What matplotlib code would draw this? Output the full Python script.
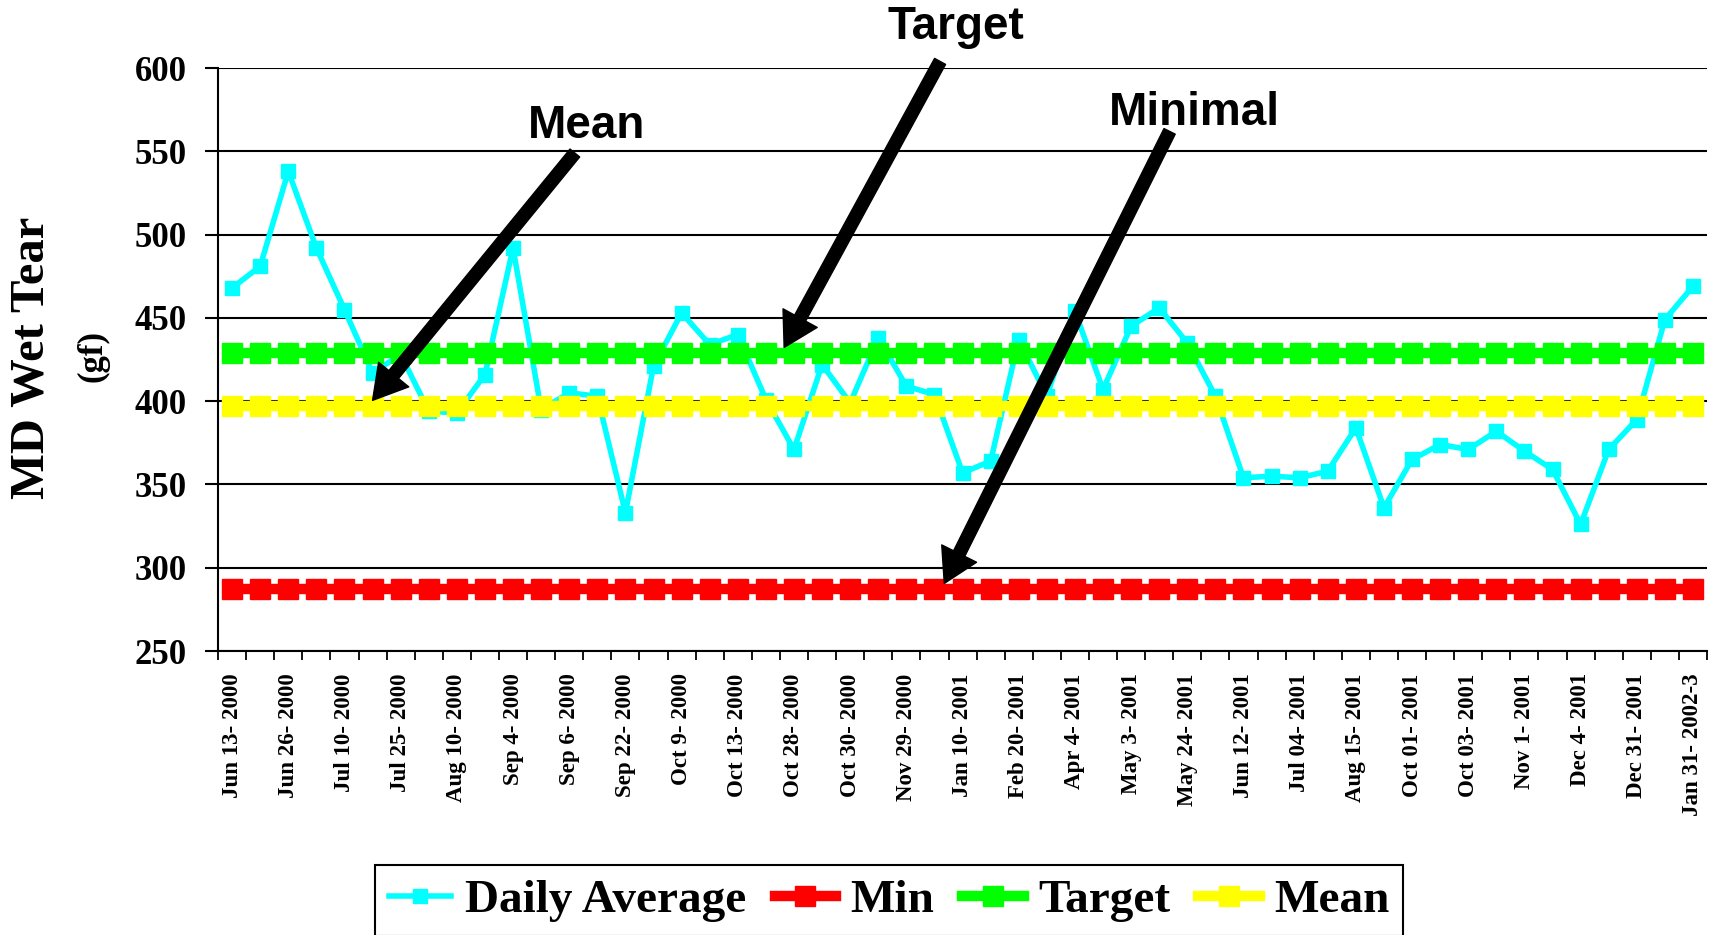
import numpy as np
import matplotlib.pyplot as plt

# tick labels (one every second sample)
date_labels = ["Jun 13- 2000", "Jun 26- 2000", "Jul 10- 2000", "Jul 25- 2000",
               "Aug 10- 2000", "Sep 4- 2000", "Sep 6- 2000", "Sep 22- 2000",
               "Oct 9- 2000", "Oct 13- 2000", "Oct 28- 2000", "Oct 30- 2000",
               "Nov 29- 2000", "Jan 10- 2001", "Feb 20- 2001", "Apr 4- 2001",
               "May 3- 2001", "May 24- 2001", "Jun 12- 2001", "Jul 04- 2001",
               "Aug 15- 2001", "Oct 01- 2001", "Oct 03- 2001", "Nov 1- 2001",
               "Dec 4- 2001", "Dec 31- 2001", "Jan 31- 2002-3"]

# MD wet tear, daily average (gf)
daily_avg = [468, 481, 538, 492, 455, 417, 428, 394, 393, 416,
             492, 395, 405, 403, 333, 421, 453, 434, 440, 401,
             371, 422, 399, 438, 409, 404, 357, 364, 437, 403,
             454, 407, 445, 456, 435, 403, 354, 355, 354, 358,
             384, 336, 365, 374, 371, 382, 370, 359, 326, 371,
             389, 449, 469]

min_value = 287
target_value = 429
mean_value = 397

serif = "Liberation Serif"
sans = "Liberation Sans"

x = np.arange(len(daily_avg))

fig = plt.figure(figsize=(17.17, 9.35), dpi=100)
ax = fig.add_axes([0.127, 0.3037, 0.8672, 0.6235])

ax.plot(x, daily_avg, color="#00FFFF", lw=4, marker="s", ms=9.5, label="Daily Average")
ax.plot(x, [min_value] * len(x), color="#FF0000", lw=7.5, marker="s", ms=14, label="Min")
ax.plot(x, [target_value] * len(x), color="#00FF00", lw=7.5, marker="s", ms=14, label="Target")
ax.plot(x, [mean_value] * len(x), color="#FFFF00", lw=7.5, marker="s", ms=14, label="Mean")

ax.set_xlim(-0.5, len(x) - 0.5)
ax.set_ylim(250, 600)
ax.set_yticks(np.arange(250, 601, 50))
ax.yaxis.grid(True, color="black", lw=1.5)
ax.set_axisbelow(True)

ax.set_xticks(x[::2])
ax.set_xticklabels(date_labels, rotation=90, fontfamily=serif, fontweight="bold", fontsize=16.5)
ax.set_xticks(np.arange(-0.5, len(x), 1), minor=True)
ax.tick_params(axis="x", which="major", length=0, pad=16)
ax.tick_params(axis="x", which="minor", length=6.5, width=1.3, direction="out")
ax.tick_params(axis="y", length=9.4, width=1.5, direction="out", pad=13)
for t in ax.get_yticklabels():
    t.set_fontfamily(serif)
    t.set_fontweight("bold")
    t.set_fontsize(25)

for s in ["top", "right"]:
    ax.spines[s].set_visible(False)
for s in ["left", "bottom"]:
    ax.spines[s].set_linewidth(1.5)

# axis title
fig.text(32 / 1717, 1 - 358 / 935, "MD Wet Tear", rotation=90, ha="center", va="center",
         fontfamily=serif, fontweight="bold", fontsize=35)
fig.text(93 / 1717, 1 - 356 / 935, "(gf)", rotation=90, ha="center", va="center",
         fontfamily=serif, fontweight="bold", fontsize=25)

# arrows with labels
arrow = dict(facecolor="black", edgecolor="black", width=9, headwidth=28, headlength=24, shrink=0)
ax.annotate("", xy=(5.0, 400.5), xytext=(12.2, 549), arrowprops=arrow, annotation_clip=False)
ax.annotate("", xy=(19.65, 432.3), xytext=(25.2, 604), arrowprops=arrow, annotation_clip=False)
ax.annotate("", xy=(25.35, 290.6), xytext=(33.37, 562), arrowprops=arrow, annotation_clip=False)

ax.text(12.6, 565, "Mean", ha="center", va="center", fontfamily=sans, fontweight="bold",
        fontsize=33, clip_on=False)
ax.text(25.77, 624.5, "Target", ha="center", va="center", fontfamily=sans, fontweight="bold",
        fontsize=33, clip_on=False)
ax.text(34.25, 573, "Minimal", ha="center", va="center", fontfamily=sans, fontweight="bold",
        fontsize=33, clip_on=False)

handles, labels = ax.get_legend_handles_labels()
leg = fig.legend(handles, labels, loc="upper center", bbox_to_anchor=(0.518, 0.075), ncol=4,
                 prop={"family": serif, "weight": "bold", "size": 34},
                 frameon=True, fancybox=False, edgecolor="black", framealpha=1,
                 handlelength=1.3, handletextpad=0.3, columnspacing=0.6, borderpad=0.3,
                 borderaxespad=0)
leg.get_frame().set_linewidth(1.5)

fig.savefig("out.png", dpi=100)
